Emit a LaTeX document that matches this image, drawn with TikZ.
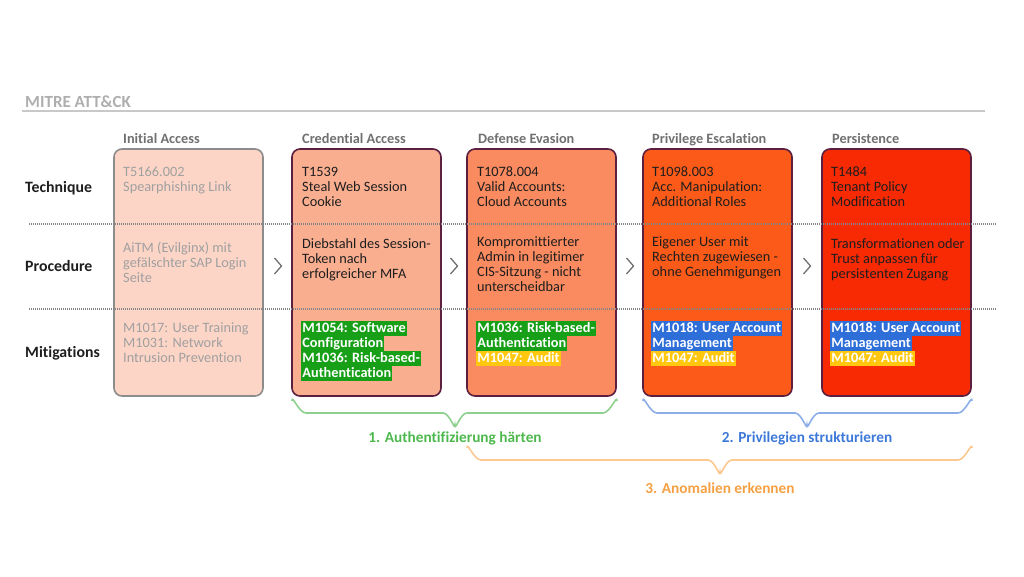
\documentclass[tikz,border=0pt]{standalone}
\usepackage{fontspec}
\setmainfont{Carlito}[Ligatures=NoCommon]
\definecolor{boxborder}{HTML}{5C1F40}
\definecolor{graybord}{HTML}{8C8C8C}
\definecolor{fillA}{HTML}{FCD5C7}
\definecolor{fillB}{HTML}{F9AE90}
\definecolor{fillC}{HTML}{FA8A5F}
\definecolor{fillD}{HTML}{FC5A18}
\definecolor{fillE}{HTML}{F82A04}
\definecolor{txtdark}{HTML}{1E1E1E}
\definecolor{txtgray}{HTML}{A0A0A0}
\definecolor{headgray}{HTML}{707070}
\definecolor{titlegray}{HTML}{AEAEAE}
\definecolor{rulegray}{HTML}{C8C8C8}
\definecolor{dotgray}{HTML}{858585}
\definecolor{hlgreen}{HTML}{17A017}
\definecolor{hlblue}{HTML}{2E6ED8}
\definecolor{hlyellow}{HTML}{FFC80E}
\definecolor{brgreen}{HTML}{8ED08E}
\definecolor{brblue}{HTML}{8CAEE8}
\definecolor{brorange}{HTML}{FBC890}
\definecolor{lbgreen}{HTML}{4DB84D}
\definecolor{lbblue}{HTML}{3B78D8}
\definecolor{lborange}{HTML}{F5A043}
\newcommand\tf{\fontsize{14.3}{15}\selectfont}
\begin{document}
\begin{tikzpicture}[x=1pt,y=-1pt,
  box/.style={draw=boxborder, rounded corners=8pt, line width=1.6pt, minimum width=149pt, minimum height=247pt, inner sep=0pt},
  txt/.style={anchor=north west, align=left, inner sep=0pt, font=\tf, text=txtdark},
  graytxt/.style={txt, text=txtgray},
  head/.style={anchor=base west, inner sep=0pt, font=\tf\bfseries, text=headgray},
  rowlab/.style={anchor=base west, inner sep=0pt, font=\fontsize{15.8}{17}\selectfont\bfseries, text=txtdark},
  hl/.style={anchor=base west, inner xsep=1.2pt, inner ysep=0pt, text height=11pt, text depth=4pt, font=\tf\bfseries, text=white},
  dotline/.style={draw=dotgray, line width=2.2pt, dash pattern=on 1.1pt off 0.9pt},
  chev/.style={draw=headgray, line width=1.3pt},
  brace/.style={line width=1.6pt},
  blab/.style={anchor=base, inner sep=0pt, font=\fontsize{15.3}{17}\selectfont\bfseries}
  ]
\useasboundingbox (0,0) rectangle (1024,576);

% title
\node[anchor=base west, inner sep=0pt, font=\fontsize{17}{19}\selectfont\bfseries, text=titlegray] (title) at (25,107) {MITRE ATT\&CK};
\draw[rulegray, line width=1.2pt] (22,111) -- (985,111);

% headers
\node[head] (h1) at (123,143) {Initial Access};
\node[head] (h2) at (302,143) {Credential Access};
\node[head] (h3) at (478,143) {Defense Evasion};
\node[head] (h4) at (652,143) {Privilege Escalation};
\node[head] (h5) at (832,143) {Persistence};

% row labels
\node[rowlab] (r1) at (25,192) {Technique};
\node[rowlab] (r2) at (25,271) {Procedure};
\node[rowlab] (r3) at (25,357) {Mitigations};

% boxes
\node[box, draw=graybord, fill=fillA] (b1) at (188.5,272.5) {};
\node[box, fill=fillB] (b2) at (366.5,272.5) {};
\node[box, fill=fillC] (b3) at (541.5,272.5) {};
\node[box, fill=fillD] (b4) at (717.5,272.5) {};
\node[box, fill=fillE] (b5) at (896.5,272.5) {};

% dotted separators
\draw[dotline] (29,224) -- (996,224);
\draw[dotline] (29,309) -- (996,309);

% chevrons
\draw[chev] (274.5,258) -- (281.5,266) -- (274.5,274);
\draw[chev] (450.5,258) -- (457.5,266) -- (450.5,274);
\draw[chev] (626.5,258) -- (633.5,266) -- (626.5,274);
\draw[chev] (803.5,258) -- (810.5,266) -- (803.5,274);

% techniques
\node[graytxt] (t1) at (123,165.5) {\strut T5166.002\\Spearphishing Link};
\node[txt] (t2) at (302,165.5) {\strut T1539\\Steal Web Session\\Cookie};
\node[txt] (t3) at (477,165.5) {\strut T1078.004\\Valid Accounts:\\Cloud Accounts};
\node[txt] (t4) at (652,165.5) {\strut T1098.003\\Acc. Manipulation:\\Additional Roles};
\node[txt] (t5) at (831,165.5) {\strut T1484\\Tenant Policy\\Modification};

% procedures
\node[graytxt] (p1) at (123,241.5) {\strut AiTM (Evilginx) mit\\gefälschter SAP Login\\Seite};
\node[txt] (p2) at (302,237.5) {\strut Diebstahl des Session-\\Token nach\\erfolgreicher MFA};
\node[txt] (p3) at (477,235.5) {\strut Kompromittierter\\Admin in legitimer\\CIS-Sitzung - nicht\\unterscheidbar};
\node[txt] (p4) at (652,235.5) {\strut Eigener User mit\\Rechten zugewiesen -\\ohne Genehmigungen};
\node[txt] (p5) at (831,237.5) {\strut Transformationen oder\\Trust anpassen für\\persistenten Zugang};

% mitigations
\node[graytxt] (m1) at (123,321.5) {\strut M1017: User Training\\M1031: Network\\Intrusion Prevention};

\node[hl, fill=hlgreen] (m2a) at (301,332) {M1054: Software};
\node[hl, fill=hlgreen] (m2b) at (301,347) {Configuration};
\node[hl, fill=hlgreen] (m2c) at (301,362) {M1036: Risk-based-};
\node[hl, fill=hlgreen] (m2d) at (301,377) {Authentication};

\node[hl, fill=hlgreen] (m3a) at (476,332) {M1036: Risk-based-};
\node[hl, fill=hlgreen] (m3b) at (476,347) {Authentication};
\node[hl, fill=hlyellow] (m3c) at (476,362) {M1047: Audit};

\node[hl, fill=hlblue] (m4a) at (651,332) {M1018: User Account};
\node[hl, fill=hlblue] (m4b) at (651,347) {Management};
\node[hl, fill=hlyellow] (m4c) at (651,362) {M1047: Audit};

\node[hl, fill=hlblue] (m5a) at (830,332) {M1018: User Account};
\node[hl, fill=hlblue] (m5b) at (830,347) {Management};
\node[hl, fill=hlyellow] (m5c) at (830,362) {M1047: Audit};

% braces
\draw[brace, brgreen] (292,401) to[out=90,in=180] (306,413) -- (443,413) to[out=0,in=-90] (455,425) to[out=-90,in=180] (467,413) -- (603,413) to[out=0,in=90] (617,401);
\node[blab, text=lbgreen] (l1) at (455,442) {1. Authentifizierung härten};

\draw[brace, brblue] (643,401) to[out=90,in=180] (657,413) -- (795,413) to[out=0,in=-90] (807,425) to[out=-90,in=180] (819,413) -- (958,413) to[out=0,in=90] (972,401);
\node[blab, text=lbblue] (l2) at (807,442) {2. Privilegien strukturieren};

\draw[brace, brorange] (467,448) to[out=90,in=180] (481,460) -- (708,460) to[out=0,in=-90] (720,472) to[out=-90,in=180] (732,460) -- (958,460) to[out=0,in=90] (972,448);
\node[blab, text=lborange] (l3) at (720,493) {3. Anomalien erkennen};
\end{tikzpicture}
\end{document}
